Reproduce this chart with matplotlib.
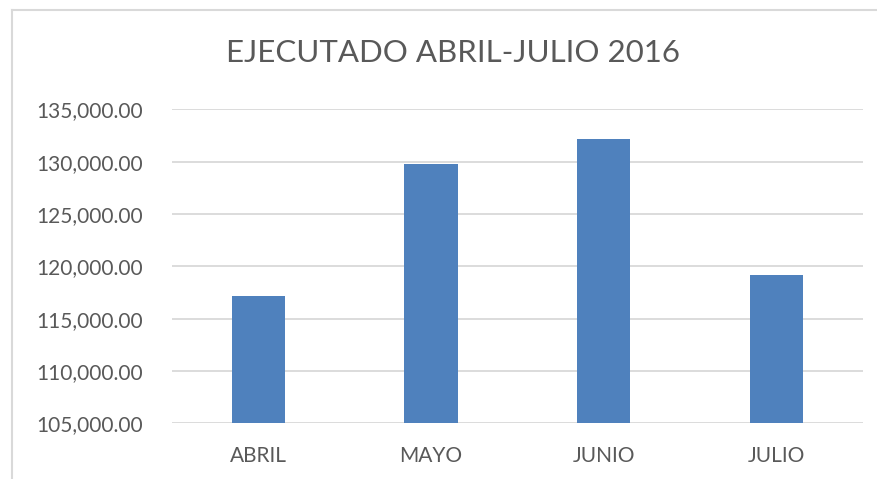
import matplotlib
matplotlib.use("Agg")
import matplotlib.pyplot as plt
from matplotlib.ticker import FuncFormatter, MultipleLocator
from matplotlib.lines import Line2D

categories = ["ABRIL", "MAYO", "JUNIO", "JULIO"]
values = [117160, 129770, 132120, 119160]
title = "EJECUTADO ABRIL-JULIO 2016"

plt.rcParams['font.family'] = ['Lato', 'DejaVu Sans']
text_color = "#595959"

fig = plt.figure(figsize=(8.77, 4.79), dpi=100)
fig.patch.set_facecolor("white")
ax = fig.add_axes([172/877, 1-423.3/479, (862.7-172)/877, (423.3-109.3)/479])

x = range(len(categories))
ax.bar(x, values, width=0.31, color="#4F81BD", zorder=3)
ax.set_xlim(-0.5, len(categories)-0.5)
ax.set_ylim(105000, 135000)
ax.yaxis.set_major_locator(MultipleLocator(5000))
ax.yaxis.set_major_formatter(FuncFormatter(lambda v, p: f"{v:,.2f}"))
ax.set_xticks(list(x))
ax.set_xticklabels(categories)
ax.grid(axis="y", color="#D9D9D9", linewidth=1.3, zorder=0)
for s in ax.spines.values():
    s.set_visible(False)
ax.tick_params(axis="both", length=0, colors=text_color, labelsize=15)
ax.tick_params(axis="y", pad=21)
ax.tick_params(axis="x", pad=16)

fig.text(453/877, 1-53/479, title, ha="center", va="center", fontsize=22.5, color=text_color)

# chart border (top and left)
fig.add_artist(Line2D([11.5/877, 1], [1-10/479, 1-10/479], color="#D9D9D9", lw=1.5, transform=fig.transFigure))
fig.add_artist(Line2D([11.5/877, 11.5/877], [0, 1-10/479], color="#D9D9D9", lw=1.5, transform=fig.transFigure))

fig.savefig("out.png", dpi=100)
